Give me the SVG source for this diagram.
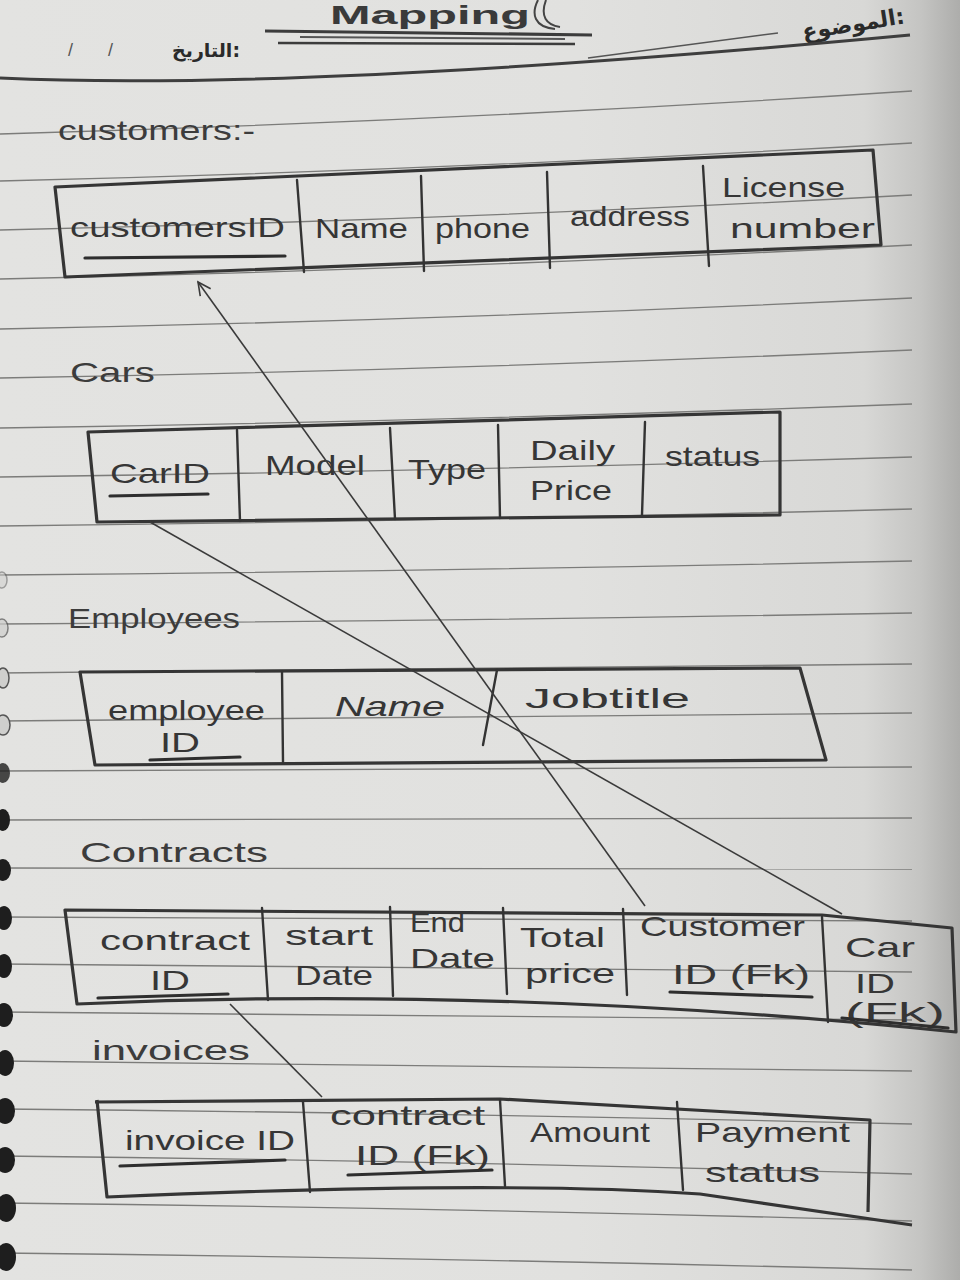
<svg xmlns="http://www.w3.org/2000/svg" width="960" height="1280" viewBox="0 0 960 1280">
<defs>
<linearGradient id="paper" x1="0" y1="0" x2="1" y2="0">
<stop offset="0" stop-color="#e3e3e1"/>
<stop offset="0.6" stop-color="#e1e1df"/>
<stop offset="0.9" stop-color="#d8d8d6"/>
<stop offset="0.96" stop-color="#c4c4c2"/>
<stop offset="1" stop-color="#adadab"/>
</linearGradient>
<marker id="chev" viewBox="0 0 20 20" refX="18" refY="10" markerWidth="16" markerHeight="16" markerUnits="userSpaceOnUse" orient="auto">
<path d="M2,2 L18,10 L2,18" fill="none" stroke="#3a3a3a" stroke-width="2"/>
</marker>
<style>
.rule{fill:none;stroke:#7c7c7a;stroke-width:1.3}
.tbl{fill:none;stroke:#353535;stroke-width:3.2;stroke-linejoin:round}
.sep{fill:none;stroke:#333;stroke-width:2.4;stroke-linecap:round}
.ul{fill:none;stroke:#2e2e2e;stroke-width:3.2;stroke-linecap:round}
.con{fill:none;stroke:#3a3a3a;stroke-width:1.6}
.hw{font-family:"Liberation Sans","DejaVu Sans",sans-serif;fill:#363636;font-size:28px}
.lbl{font-family:"Liberation Sans","DejaVu Sans",sans-serif;fill:#3c3c3c;font-size:28px}
.ar{font-family:"DejaVu Sans",sans-serif;fill:#2a2a2a;font-weight:bold}
.hole{fill:#1e1e1e}
.ring{fill:#cfcfcd;stroke:#555;stroke-width:1.5}
</style>
</defs>

<rect x="0" y="0" width="960" height="1280" fill="url(#paper)"/>

<g id="ruled-lines">
<path class="rule" d="M0,134 Q456,121 912,91"/>
<path class="rule" d="M0,181 Q456,170 912,143"/>
<path class="rule" d="M0,230 Q456,220 912,195"/>
<path class="rule" d="M0,279 Q456,269 912,245"/>
<path class="rule" d="M0,329 Q456,320 912,298"/>
<path class="rule" d="M0,378 Q456,370 912,350"/>
<path class="rule" d="M0,428 Q456,421 912,404"/>
<path class="rule" d="M0,477 Q456,471 912,457"/>
<path class="rule" d="M0,526 Q456,521 912,509"/>
<path class="rule" d="M0,575 Q456,571 912,561"/>
<path class="rule" d="M0,624 Q456,621 912,613"/>
<path class="rule" d="M0,673 Q456,670 912,664"/>
<path class="rule" d="M0,721 Q456,719 912,713"/>
<path class="rule" d="M0,771 Q456,770 912,767"/>
<path class="rule" d="M0,820 Q456,819 912,818"/>
<path class="rule" d="M0,868 Q456,868 912,869"/>
<path class="rule" d="M0,917 Q456,918 912,921"/>
<path class="rule" d="M0,964 Q456,966 912,972"/>
<path class="rule" d="M0,1012 Q456,1014 912,1020"/>
<path class="rule" d="M0,1061 Q456,1064 912,1071"/>
<path class="rule" d="M0,1109 Q456,1113 912,1124"/>
<path class="rule" d="M0,1156 Q456,1161 912,1174"/>
<path class="rule" d="M0,1203 Q456,1208 912,1221"/>
<path class="rule" d="M0,1253 Q456,1258 912,1270"/>
</g>

<g id="spiral">
<ellipse class="ring" cx="2" cy="580" rx="5" ry="8" opacity="0.5"/>
<ellipse class="ring" cx="2" cy="628" rx="6" ry="9" opacity="0.7"/>
<ellipse class="ring" cx="3" cy="678" rx="6" ry="10"/>
<ellipse class="ring" cx="3" cy="725" rx="7" ry="10"/>
<ellipse class="hole" cx="3" cy="773" rx="7" ry="10" opacity="0.8"/>
<ellipse class="hole" cx="3" cy="820" rx="7" ry="11"/>
<ellipse class="hole" cx="3" cy="870" rx="8" ry="11"/>
<ellipse class="hole" cx="4" cy="918" rx="8" ry="12"/>
<ellipse class="hole" cx="4" cy="966" rx="8" ry="12"/>
<ellipse class="hole" cx="4" cy="1015" rx="9" ry="12"/>
<ellipse class="hole" cx="5" cy="1063" rx="9" ry="13"/>
<ellipse class="hole" cx="5" cy="1111" rx="10" ry="13"/>
<ellipse class="hole" cx="5" cy="1160" rx="10" ry="13"/>
<ellipse class="hole" cx="6" cy="1208" rx="10" ry="14"/>
<ellipse class="hole" cx="6" cy="1257" rx="10" ry="14"/>
</g>

<g id="header">
<text x="330" y="24" font-family="Liberation Sans, sans-serif" font-size="26" font-weight="bold" fill="#3a3a3a" textLength="200" lengthAdjust="spacingAndGlyphs">Mapping</text>
<path d="M538,0 C531,14 534,27 555,29 M546,0 C540,16 546,25 560,27" fill="none" stroke="#444" stroke-width="2"/>
<path d="M265,31 L592,35" fill="none" stroke="#3c3c3c" stroke-width="3.2"/>
<path d="M300,37 L565,39" fill="none" stroke="#555" stroke-width="2"/>
<path d="M278,43 L575,44" fill="none" stroke="#3c3c3c" stroke-width="2.6"/>
<text class="ar" x="905" y="32" font-size="22" text-anchor="end" transform="rotate(-9 850 25)">الموضوع:</text>
<path d="M588,58 L778,33" fill="none" stroke="#555" stroke-width="1.5"/>
<text class="ar" x="240" y="57" font-size="19" text-anchor="end">التاريخ:</text>
<text x="68" y="56" font-family="Liberation Sans, sans-serif" font-size="18" fill="#555">/&#160;&#160;&#160;&#160;&#160;&#160;&#160;/</text>
<path d="M0,78 Q300,92 910,35" fill="none" stroke="#3e3e3e" stroke-width="3"/>
</g>

<g id="customers">
<text class="lbl" x="58" y="140" textLength="197" lengthAdjust="spacingAndGlyphs">customers:-</text>
<path class="tbl" d="M55,187 L873,150 L881,245 L65,277 Z"/>
<path class="sep" d="M297,180 L304,272 M421,176 L424,271 M547,172 L550,268 M703,166 L709,266"/>
<text class="hw" x="70" y="237" textLength="215" lengthAdjust="spacingAndGlyphs">customersID</text>
<path class="ul" d="M85,258 L285,256"/>
<text class="hw" x="315" y="238" textLength="93" lengthAdjust="spacingAndGlyphs">Name</text>
<text class="hw" x="435" y="238" textLength="95" lengthAdjust="spacingAndGlyphs">phone</text>
<text class="hw" x="570" y="226" textLength="120" lengthAdjust="spacingAndGlyphs">address</text>
<text class="hw" x="722" y="197" textLength="123" lengthAdjust="spacingAndGlyphs">License</text>
<text class="hw" x="730" y="238" textLength="145" lengthAdjust="spacingAndGlyphs">number</text>
</g>

<g id="cars">
<text class="lbl" x="70" y="382" textLength="85" lengthAdjust="spacingAndGlyphs">Cars</text>
<path class="tbl" d="M88,432 L780,412 L780,515 L97,522 Z"/>
<path class="sep" d="M237,430 L240,521 M390,428 L395,519 M498,425 L500,518 M645,422 L642,515"/>
<text class="hw" x="110" y="483" textLength="100" lengthAdjust="spacingAndGlyphs">CarID</text>
<path class="ul" d="M110,496 L208,494"/>
<text class="hw" x="265" y="475" textLength="100" lengthAdjust="spacingAndGlyphs">Model</text>
<text class="hw" x="408" y="479" textLength="78" lengthAdjust="spacingAndGlyphs">Type</text>
<text class="hw" x="530" y="460" textLength="85" lengthAdjust="spacingAndGlyphs">Daily</text>
<text class="hw" x="530" y="500" textLength="82" lengthAdjust="spacingAndGlyphs">Price</text>
<text class="hw" x="665" y="466" textLength="95" lengthAdjust="spacingAndGlyphs">status</text>
</g>

<g id="employees">
<text class="lbl" x="68" y="628" textLength="172" lengthAdjust="spacingAndGlyphs">Employees</text>
<path class="tbl" d="M80,672 L800,668 L826,760 L95,765 Z"/>
<path class="sep" d="M282,672 L283,762 M497,670 L483,745"/>
<text class="hw" x="108" y="720" textLength="157" lengthAdjust="spacingAndGlyphs">employee</text>
<text class="hw" x="160" y="752" textLength="40" lengthAdjust="spacingAndGlyphs">ID</text>
<path class="ul" d="M150,760 L240,757"/>
<text class="hw" x="335" y="716" font-style="italic" textLength="110" lengthAdjust="spacingAndGlyphs">Name</text>
<text class="hw" x="525" y="708" font-size="36" textLength="165" lengthAdjust="spacingAndGlyphs">Jobtitle</text>
</g>

<g id="contracts">
<text class="lbl" x="80" y="862" font-size="32" textLength="188" lengthAdjust="spacingAndGlyphs">Contracts</text>
<path class="tbl" d="M65,910 L822,915 L952,928 L956,1032 Q500,985 77,1004 Z"/>
<path class="sep" d="M262,908 L268,1000 M390,907 L393,996 M503,908 L507,994 M623,909 L627,995 M822,917 L828,1022"/>
<text class="hw" x="100" y="950" textLength="150" lengthAdjust="spacingAndGlyphs">contract</text>
<text class="hw" x="150" y="990" textLength="40" lengthAdjust="spacingAndGlyphs">ID</text>
<path class="ul" d="M98,998 L228,994"/>
<text class="hw" x="285" y="945" textLength="88" lengthAdjust="spacingAndGlyphs">start</text>
<text class="hw" x="295" y="985" textLength="78" lengthAdjust="spacingAndGlyphs">Date</text>
<text class="hw" x="410" y="932" textLength="55" lengthAdjust="spacingAndGlyphs">End</text>
<text class="hw" x="410" y="968" textLength="85" lengthAdjust="spacingAndGlyphs">Date</text>
<text class="hw" x="520" y="947" textLength="85" lengthAdjust="spacingAndGlyphs">Total</text>
<text class="hw" x="525" y="983" textLength="90" lengthAdjust="spacingAndGlyphs">price</text>
<text class="hw" x="640" y="936" textLength="165" lengthAdjust="spacingAndGlyphs">Customer</text>
<text class="hw" x="672" y="984" textLength="138" lengthAdjust="spacingAndGlyphs">ID (Fk)</text>
<path class="ul" d="M670,992 L812,997"/>
<text class="hw" x="845" y="957" textLength="70" lengthAdjust="spacingAndGlyphs">Car</text>
<text class="hw" x="855" y="993" textLength="40" lengthAdjust="spacingAndGlyphs">ID</text>
<text class="hw" x="845" y="1022" font-size="26" textLength="100" lengthAdjust="spacingAndGlyphs">(Fk)</text>
<path class="ul" d="M842,1018 L948,1028"/>
</g>

<g id="invoices">
<text class="lbl" x="92" y="1060" textLength="158" lengthAdjust="spacingAndGlyphs">invoices</text>
<path class="tbl" d="M95,1102 L500,1099 L870,1120 L868,1212"/>
<path class="tbl" d="M97,1100 L107,1197 Q500,1180 700,1194 L912,1225"/>
<path class="sep" d="M303,1102 L310,1192 M500,1100 L505,1186 M677,1102 L683,1190"/>
<text class="hw" x="125" y="1150" textLength="170" lengthAdjust="spacingAndGlyphs">invoice ID</text>
<path class="ul" d="M120,1166 L285,1160"/>
<text class="hw" x="330" y="1125" textLength="155" lengthAdjust="spacingAndGlyphs">contract</text>
<text class="hw" x="355" y="1165" textLength="135" lengthAdjust="spacingAndGlyphs">ID (Fk)</text>
<path class="ul" d="M348,1175 L492,1170"/>
<text class="hw" x="530" y="1142" textLength="120" lengthAdjust="spacingAndGlyphs">Amount</text>
<text class="hw" x="695" y="1142" textLength="155" lengthAdjust="spacingAndGlyphs">Payment</text>
<text class="hw" x="705" y="1182" textLength="115" lengthAdjust="spacingAndGlyphs">status</text>
</g>

<g id="connectors">
<path class="con" d="M645,906 L198,282" marker-end="url(#chev)"/>
<path class="con" d="M150,522 L842,914"/>
<path class="con" d="M230,1004 L322,1097"/>
</g>
</svg>
